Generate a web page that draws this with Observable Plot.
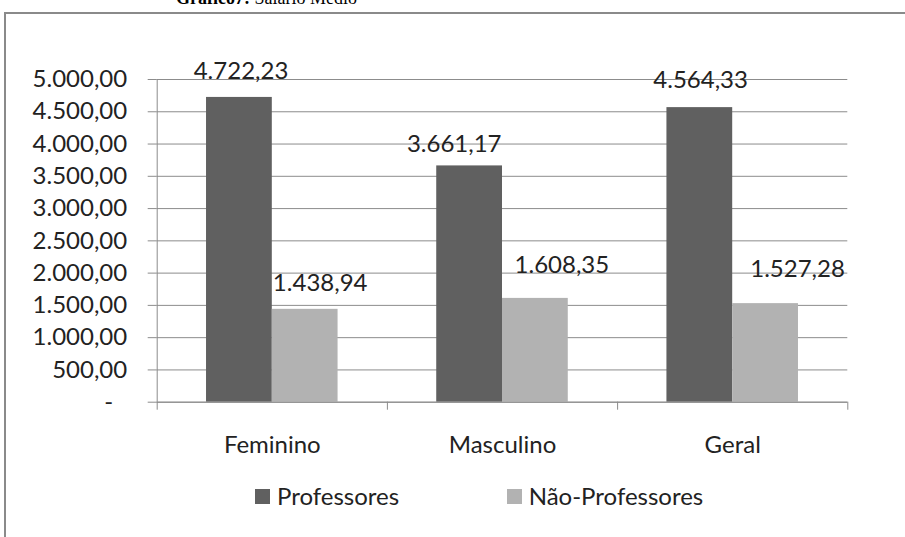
<!DOCTYPE html>
<html>
<head>
<meta charset="utf-8">
<script src="https://cdn.jsdelivr.net/npm/d3@7"></script>
<script src="https://cdn.jsdelivr.net/npm/@observablehq/plot@0.6"></script>
<style>
  html, body { margin: 0; padding: 0; background: #fff; }
  #page { position: relative; width: 905px; height: 537px; overflow: hidden; background: #fff; }
  #title { position: absolute; left: 0; top: -11.5px; width: 533px; text-align: center;
           font-family: "Liberation Serif", serif; font-size: 18px; line-height: 18px; color: #000; white-space: nowrap; }
  #frame { position: absolute; left: 4px; top: 12px; width: 1000px; height: 1000px; border: 2px solid #8a8a8a; box-sizing: border-box; }
  #chart { position: absolute; left: 0; top: 0; }
  #legend { position: absolute; left: 255px; top: 484px; display: flex; font-family: Lato, sans-serif; font-size: 24px; line-height: 24px; color: #222; }
  .item { display: flex; align-items: center; width: 251.7px; height: 24px; }
  .sw { width: 15px; height: 15px; margin-right: 7px; flex: none; }
</style>
</head>
<body>
<div id="page">
  <div id="title"><b>Gráfico7:</b> Salário Médio</div>
  <div id="frame"></div>
  <div id="chart"></div>
  <div id="legend"></div>
</div>
<script>
// ---- data ----
const categories = ["Feminino", "Masculino", "Geral"];
const series = ["Professores", "Não-Professores"];
const professores = [4722.23, 3661.17, 4564.33];
const naoProfessores = [1438.94, 1608.35, 1527.28];
const yTicks = [0, 500, 1000, 1500, 2000, 2500, 3000, 3500, 4000, 4500, 5000];

// ---- styling / layout ----
const colors = ["#606060", "#b2b2b2"];
const gridColor = "#8c8c8c";
const textColor = "#222";
const fontSize = 24;
const gapWidth = 1.5; // Excel gap width 150%
const barW = 1 / (series.length + gapWidth);
// per-label manual nudges [dx px, px above bar top], as positioned in the original
const labelNudge = [
  [[1.6, 18.7], [15, 18.3]],
  [[-15.4, 14.3], [26.5, 25.3]],
  [[0.8, 20], [32, 26.3]]
];

const locale = d3.formatLocale({decimal: ",", thousands: ".", grouping: [3], currency: ["R$ ", ""]});
const fmt = locale.format(",.2f");
const tickFmt = v => v === 0 ? "-\u2007" : fmt(v);

const valuesBySeries = [professores, naoProfessores];
const rows = [];
categories.forEach((c, i) => {
  series.forEach((s, k) => {
    const x1 = i + (gapWidth / 2) * barW + k * barW;
    rows.push({category: c, i, series: s, k, value: valuesBySeries[k][i], x1, x2: x1 + barW, xc: x1 + barW / 2});
  });
});

const labelMarks = rows.map(r => {
  const [dx, above] = labelNudge[r.i][r.k];
  return Plot.text([r], {
    x: "xc", y: "value", text: d => fmt(d.value),
    dx, dy: -above - 0.32 * fontSize,
    fill: textColor, fontSize, lineAnchor: "middle", textAnchor: "middle"
  });
});

const chart = Plot.plot({
  width: 905,
  height: 470,
  marginLeft: 156.7,
  marginRight: 57.7,
  marginTop: 79,
  marginBottom: 68.3,
  style: {fontFamily: "Lato, sans-serif", fontSize: fontSize + "px", color: textColor, background: "transparent", overflow: "visible"},
  x: {domain: [0, categories.length], axis: null},
  y: {domain: [0, 5000], axis: null},
  marks: [
    Plot.gridY(yTicks, {stroke: gridColor, strokeOpacity: 1}),
    Plot.axisY(yTicks, {label: null, tickSize: 9, tickPadding: 21, tickFormat: tickFmt, stroke: gridColor, fill: textColor, strokeOpacity: 1}),
    Plot.ruleX([0], {stroke: gridColor}),
    Plot.axisX(d3.range(categories.length + 1), {label: null, tickSize: 8, tickFormat: () => "", stroke: gridColor, strokeOpacity: 1}),
    Plot.axisX(categories.map((c, i) => i + 0.5), {label: null, tickSize: 0, tickPadding: 34, tickFormat: v => categories[Math.floor(v)], fill: textColor}),
    ...series.map((s, k) => Plot.rectY(rows.filter(r => r.k === k), {x1: "x1", x2: "x2", y1: 0, y2: "value", fill: colors[k]})),
    Plot.ruleY([0], {stroke: gridColor}),
    ...labelMarks
  ]
});
document.getElementById("chart").appendChild(chart);

// legend
const legend = document.getElementById("legend");
series.forEach((s, k) => {
  const item = document.createElement("div");
  item.className = "item";
  const sw = document.createElement("span");
  sw.className = "sw";
  sw.style.background = colors[k];
  const t = document.createElement("span");
  t.textContent = s;
  item.appendChild(sw);
  item.appendChild(t);
  legend.appendChild(item);
});
</script>
</body>
</html>
